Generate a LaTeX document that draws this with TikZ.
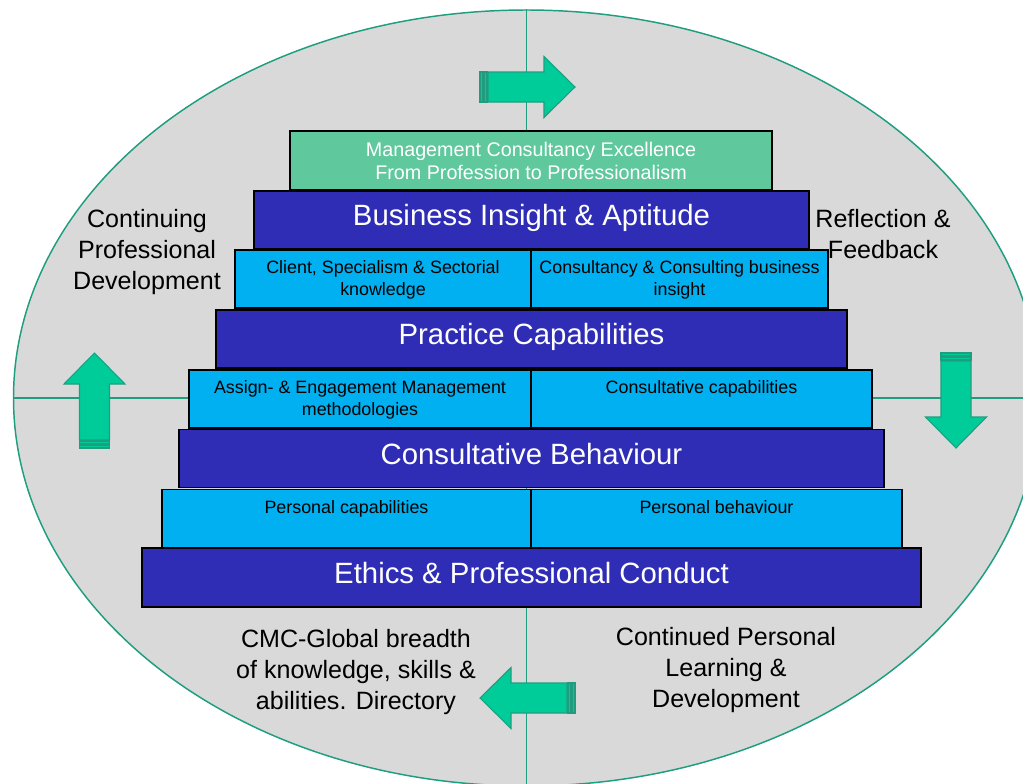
\documentclass[tikz,border=0pt]{standalone}
\usepackage{fontspec}
\setmainfont{Liberation Sans}
\usetikzlibrary{shapes.geometric}

\definecolor{ringgrey}{HTML}{D9D9D9}
\definecolor{ringline}{HTML}{1F9E7F}
\definecolor{topgreen}{HTML}{5FC89C}
\definecolor{tierblue}{HTML}{2F2DB6}
\definecolor{cellblue}{HTML}{00B0F0}
\definecolor{arrowfill}{HTML}{00CC99}
\newcommand{\px}{0.75pt}

\tikzset{
  crown/.style={draw=black, line width=1.1pt, fill=topgreen, text=white, inner sep=0pt,
    align=center, font=\fontsize{14.8}{17.25}\selectfont},
  tier/.style={draw=black, line width=1.1pt, fill=tierblue, text=white, inner sep=0pt,
    minimum height=58*\px, font=\fontsize{22}{26}\selectfont, text height=16.5pt, text depth=7.7pt},
  cell/.style={draw=black, line width=1.1pt, fill=cellblue, inner sep=0pt, minimum height=58*\px},
  celltext/.style={anchor=north, inner sep=0pt, align=center, font=\fontsize{13.4}{16.5}\selectfont},
  sidetext/.style={align=center, inner sep=0pt, font=\fontsize{18.8}{23.25}\selectfont},
  crossline/.style={draw=ringline, line width=1.4pt},
  arrowline/.style={draw=ringline, fill=arrowfill, line width=0.8pt},
  flowarrow/.pic={
    \draw[arrowline] (8,-15) -- (64,-15) -- (64,-30.5) -- (95,0) -- (64,30.5) -- (64,15) -- (8,15) -- cycle;
    \draw[arrowline] (0,-15) rectangle (3,15);
    \draw[arrowline] (4.5,-15) rectangle (7,15);
  }
}

\begin{document}
\begin{tikzpicture}[x=0.75pt,y=-0.75pt]
  \useasboundingbox (0,0) rectangle (1023,783);
  % background ring and cross
  \node[ellipse, draw=ringline, line width=1.1pt, fill=ringgrey, inner sep=0pt,
    minimum width=1026*\px, minimum height=776*\px] (ring) at (526.5,398) {};
  \draw[crossline] (ring.north) -- (ring.south);
  \draw[crossline] (ring.west) -- (ring.east);

  % pyramid
  \node[crown, minimum width=482*\px, minimum height=59*\px] (mce) at (531,160.5)
    {Management Consultancy Excellence\\From Profession to Professionalism};
  \node[tier, minimum width=555*\px] (bia) at (531.5,220) {Business Insight \& Aptitude};
  \node[cell, minimum width=296*\px] (csk) at (383,279) {};
  \node[cell, minimum width=297*\px] (ccb) at (679.5,279) {};
  \node[tier, minimum width=631*\px] (pc) at (531.5,339) {Practice Capabilities};
  \node[cell, minimum width=342*\px] (aem) at (360,399) {};
  \node[cell, minimum width=341*\px] (cc) at (701.5,399) {};
  \node[tier, minimum width=705*\px] (cb) at (531.5,458.5) {Consultative Behaviour};
  \node[cell, minimum width=369*\px] (pcap) at (346.5,518.5) {};
  \node[cell, minimum width=371*\px] (pbeh) at (716.5,518.5) {};
  \node[tier, minimum width=779*\px, minimum height=59*\px] (epc) at (531.5,577.5)
    {Ethics \& Professional Conduct};

  \node[celltext] (csk-t) at ([yshift=-11.4*\px]csk.north) {Client, Specialism \& Sectorial\\knowledge};
  \node[celltext] (ccb-t) at ([yshift=-11.4*\px]ccb.north) {Consultancy \& Consulting business\\insight};
  \node[celltext] (aem-t) at ([yshift=-11.4*\px]aem.north) {Assign- \& Engagement Management\\methodologies};
  \node[celltext] (cc-t) at ([yshift=-11.4*\px]cc.north) {Consultative capabilities};
  \node[celltext] (pcap-t) at ([yshift=-11.4*\px]pcap.north) {Personal capabilities};
  \node[celltext] (pbeh-t) at ([yshift=-11.4*\px]pbeh.north) {Personal behaviour};

  % cycle arrows
  \pic at (480,87) {flowarrow};
  \pic[rotate=-90] at (956,353) {flowarrow};
  \pic[rotate=180] at (575,698) {flowarrow};
  \pic[rotate=90] at (94.5,448) {flowarrow};

  % quadrant labels
  \node[sidetext] (cpd) at (147,252) {Continuing\\Professional\\Development};
  \node[sidetext] (rf) at (883,234) {Reflection \&\\Feedback};
  \node[sidetext] (cmc) at (356,672) {CMC-Global breadth\\of knowledge, skills \&\\abilities. Directory};
  \node[sidetext] (cpl) at (726,670) {Continued Personal\\Learning \&\\Development};
\end{tikzpicture}
\end{document}
